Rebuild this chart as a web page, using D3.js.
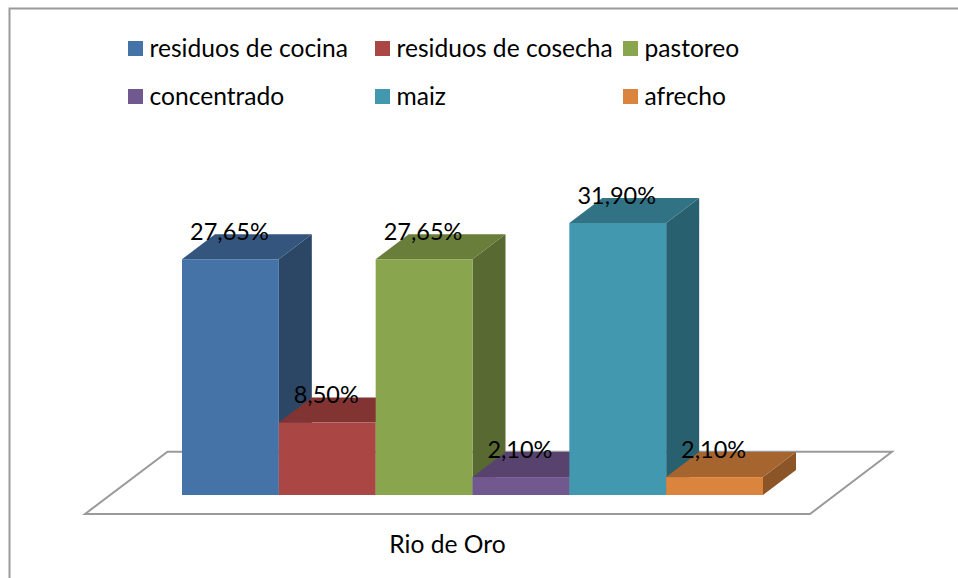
<!DOCTYPE html>
<html><head><meta charset="utf-8">
<script src="https://cdn.jsdelivr.net/npm/d3@7"></script>
<style>html,body{margin:0;padding:0;background:#fff}svg{display:block}text{font-family:Lato,"Open Sans",sans-serif;fill:#000}</style>
</head><body><div id="chart"></div>
<script>
const categories = ["Rio de Oro"];
const seriesNames = ["residuos de cocina","residuos de cosecha","pastoreo","concentrado","maiz","afrecho"];
const seriesValues = [27.65,8.5,27.65,2.1,31.9,2.1];
const valueLabels = ["27,65%","8,50%","27,65%","2,10%","31,90%","2,10%"];
const frontColors = ["#4572A7","#AA4643","#89A54E","#71588F","#4198AF","#DB843D"];
const topColors = ["#34557E","#823433","#697E3B","#57436E","#317385","#A6642F"];
const sideColors = ["#2C4766","#6E2C2A","#586A32","#47375B","#296070","#8C5527"];
const W = 958, H = 578, fs = 23.5, fsText = 24.6;
const dx = 33, dy = 25;
const svg = d3.select("#chart").append("svg").attr("width",W).attr("height",H);
const line = d3.line();
// outer frame
svg.append("path").attr("d",line([[9.5,H],[9.5,8.5],[W,8.5]])).attr("fill","none").attr("stroke","#9a9a9a").attr("stroke-width",2);
const cat = d3.scaleBand().domain(categories).range([85,810]);
const x = d3.scaleBand().domain(seriesNames).range([182,763]);
const y = d3.scaleLinear().domain([0,31.9]).range([495,223]);
// floor
svg.append("path").attr("d",line([[85,514],[167.5,451.7],[892,451.7],[810,514]])+"Z")
  .attr("fill","#fff").attr("stroke","#9a9a9a").attr("stroke-width",2);
// bars
const bars = svg.append("g").selectAll("g").data(seriesNames).join("g");
bars.append("path").attr("fill",(d,i)=>sideColors[i]).attr("d",(d,i)=>{
  const r=x(d)+x.bandwidth(), t=y(seriesValues[i]), b=y(0);
  return line([[r,t],[r+dx,t-dy],[r+dx,b-dy],[r,b]])+"Z";});
bars.append("path").attr("fill",(d,i)=>topColors[i]).attr("d",(d,i)=>{
  const l=x(d), r=l+x.bandwidth(), t=y(seriesValues[i]);
  return line([[l,t],[l+dx,t-dy],[r+dx,t-dy],[r,t]])+"Z";});
bars.append("rect").attr("fill",(d,i)=>frontColors[i])
  .attr("x",d=>x(d)).attr("width",x.bandwidth())
  .attr("y",(d,i)=>y(seriesValues[i])).attr("height",(d,i)=>y(0)-y(seriesValues[i]));
// value labels
svg.append("g").selectAll("text").data(seriesNames).join("text")
  .attr("x",d=>x(d)+x.bandwidth()/2-1).attr("y",(d,i)=>y(seriesValues[i])-19.5)
  .attr("text-anchor","middle").attr("font-size",fs).text((d,i)=>valueLabels[i]);
// category axis
const ax = svg.append("g").attr("transform","translate(0,514)").call(d3.axisBottom(cat).tickSize(0).tickPadding(22));
ax.select(".domain").remove();
ax.selectAll("text").attr("font-size",fsText).attr("font-family",null).style("fill","#000");
// legend
const legendX = [128,375,623], legendY = [41,89];
const lg = svg.append("g").selectAll("g").data(seriesNames).join("g")
  .attr("transform",(d,i)=>`translate(${legendX[i%3]},${legendY[Math.floor(i/3)]})`);
lg.append("rect").attr("width",15).attr("height",15).attr("fill",(d,i)=>frontColors[i]);
lg.append("text").attr("x",21.5).attr("y",15.5).attr("font-size",fsText).text(d=>d);
</script></body></html>
